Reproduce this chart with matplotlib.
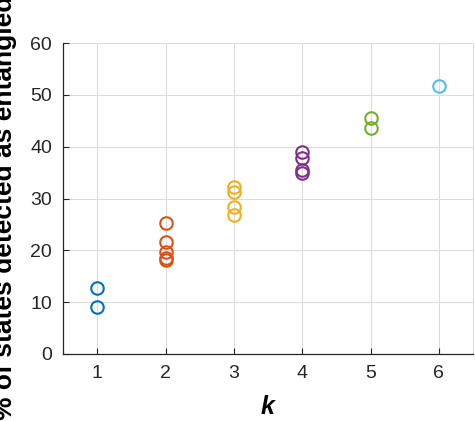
import matplotlib.pyplot as plt

plt.rcParams['font.family'] = ['Liberation Sans', 'DejaVu Sans']

# values, one list per k
k_vals = [1, 2, 3, 4, 5, 6]
pct = [
    [12.7, 9.1],
    [25.3, 21.6, 19.7, 18.5, 18.1],
    [32.2, 31.2, 28.4, 26.8],
    [38.9, 37.9, 35.5, 34.9],
    [45.6, 43.6],
    [51.8],
]
colors = ["#0072BD", "#D95319", "#EDB120", "#7E2F8E", "#77AC30", "#4DBEEE"]

fig = plt.figure(figsize=(4.75, 4.21), dpi=100)
ax = fig.add_axes([63/475, 1 - 354/421, 410/475, 311/421])

for k, ys, c in zip(k_vals, pct, colors):
    ax.plot([k]*len(ys), ys, linestyle="none", marker="o", markersize=9,
            markerfacecolor="none", markeredgecolor=c, markeredgewidth=1.5)

ax.set_xlim(0.5, 6.5)
ax.set_ylim(0, 60)
ax.set_xticks(k_vals)
ax.set_yticks(range(0, 61, 10))
ax.grid(True, color="#dcdcdc", linewidth=0.8)
ax.set_axisbelow(True)

ax.spines["top"].set_visible(False)
ax.spines["right"].set_color("#dcdcdc")
for s in ["left", "bottom"]:
    ax.spines[s].set_color("#262626")
    ax.spines[s].set_linewidth(0.9)
ax.tick_params(direction="in", length=4, labelsize=14, colors="#262626",
               top=False, right=False, pad=8)

ax.set_xlabel("k", fontsize=18, fontweight="bold", style="italic", labelpad=9)
ax.set_ylabel("% of states detected as entangled", fontsize=19,
              fontweight="bold")
ax.yaxis.set_label_coords(-0.112, 0.47)

fig.savefig("out.png", dpi=100)
